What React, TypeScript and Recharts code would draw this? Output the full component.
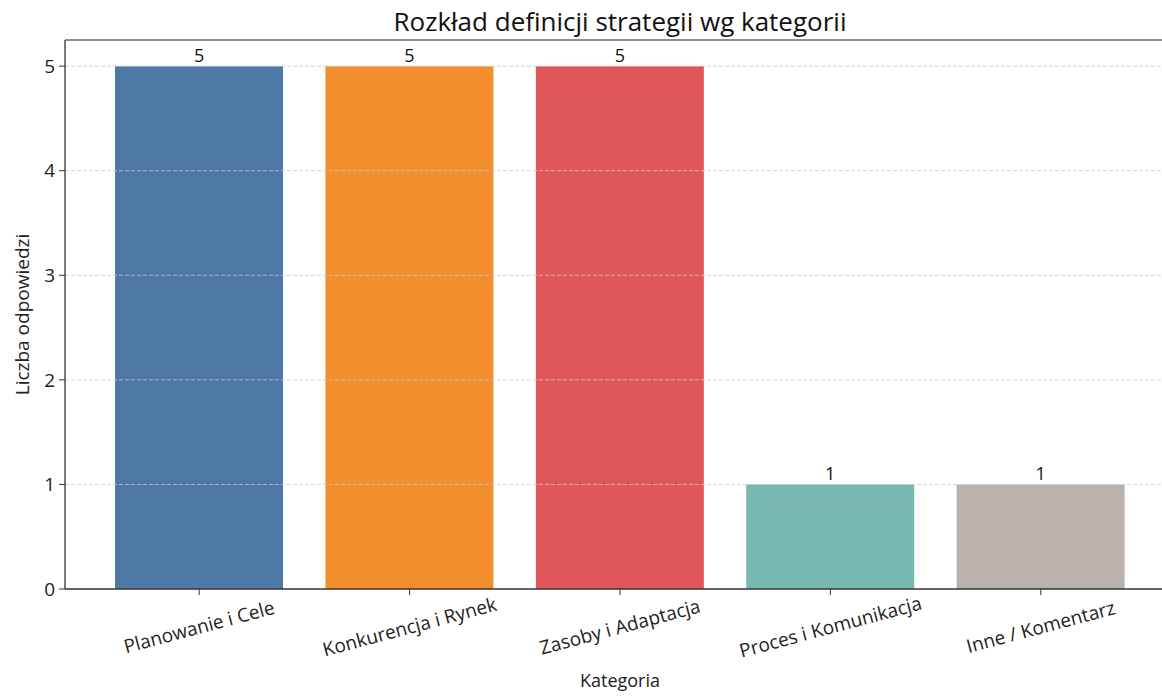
import React from 'react';
import {
  BarChart,
  Bar,
  Cell,
  XAxis,
  YAxis,
  ReferenceLine,
  LabelList,
} from 'recharts';

const categories = [
  'Planowanie i Cele',
  'Konkurencja i Rynek',
  'Zasoby i Adaptacja',
  'Proces i Komunikacja',
  'Inne / Komentarz',
];
const counts = [5, 5, 5, 1, 1];
const colors = ['#4e79a7', '#f28e2b', '#e15759', '#76b7b2', '#bab0ac'];
const yTicks = [0, 1, 2, 3, 4, 5];

const data = categories.map((name, i) => ({ name, count: counts[i] }));

const FONT = '"Open Sans", Roboto, sans-serif';

function CategoryTick(props: any) {
  const { x, y, payload } = props;
  return (
    <g transform={`translate(${x},${y + 30}) rotate(-15)`}>
      <text textAnchor="middle" dy="0.35em" fill="#222" fontSize={19} fontFamily={FONT}>
        {payload.value}
      </text>
    </g>
  );
}

export default function App() {
  return (
    <div style={{ position: 'relative', width: 1162, height: 696, overflow: 'hidden', fontFamily: FONT }}>
      <style>{`body{margin:0}`}</style>
      <div
        style={{
          position: 'absolute',
          left: 0,
          width: 1240,
          top: 3,
          textAlign: 'center',
          fontSize: 26,
          color: '#111',
        }}
      >
        Rozkład definicji strategii wg kategorii
      </div>
      <BarChart
        width={1200}
        height={696}
        data={data}
        margin={{ top: 40, right: 25, left: 0, bottom: 0 }}
        barCategoryGap="10%"
      >
        <XAxis
          dataKey="name"
          height={107}
          padding={{ left: 29, right: 29 }}
          tick={<CategoryTick />}
          tickSize={6}
          axisLine={{ stroke: '#333', strokeWidth: 1.3 }}
          tickLine={{ stroke: '#333' }}
          interval={0}
          label={{
            value: 'Kategoria',
            position: 'insideBottom',
            offset: 9,
            fill: '#222',
            fontSize: 18,
            fontFamily: FONT,
          }}
        />
        <YAxis
          width={65}
          domain={[0, 5.25]}
          ticks={yTicks}
          tickSize={6}
          tickMargin={4}
          axisLine={{ stroke: '#333', strokeWidth: 1.3 }}
          tickLine={{ stroke: '#333' }}
          tick={{ fill: '#222', fontSize: 19, fontFamily: FONT }}
          label={{
            value: 'Liczba odpowiedzi',
            angle: -90,
            position: 'insideLeft',
            offset: 22,
            fill: '#222',
            fontSize: 19,
            fontFamily: FONT,
            style: { textAnchor: 'middle' },
          }}
        />
        <Bar dataKey="count" isAnimationActive={false}>
          {data.map((d, i) => (
            <Cell key={d.name} fill={colors[i]} />
          ))}
          <LabelList
            dataKey="count"
            position="top"
            offset={4}
            fill="#111"
            fontSize={18}
            fontFamily={FONT}
          />
        </Bar>
        {yTicks.slice(1).map((t) => (
          <ReferenceLine
            key={t}
            y={t}
            stroke="#c8c8c8"
            strokeOpacity={0.8}
            strokeDasharray="4 2"
          />
        ))}
        <ReferenceLine y={5.25} stroke="#222" strokeWidth={1.2} />
      </BarChart>
    </div>
  );
}
